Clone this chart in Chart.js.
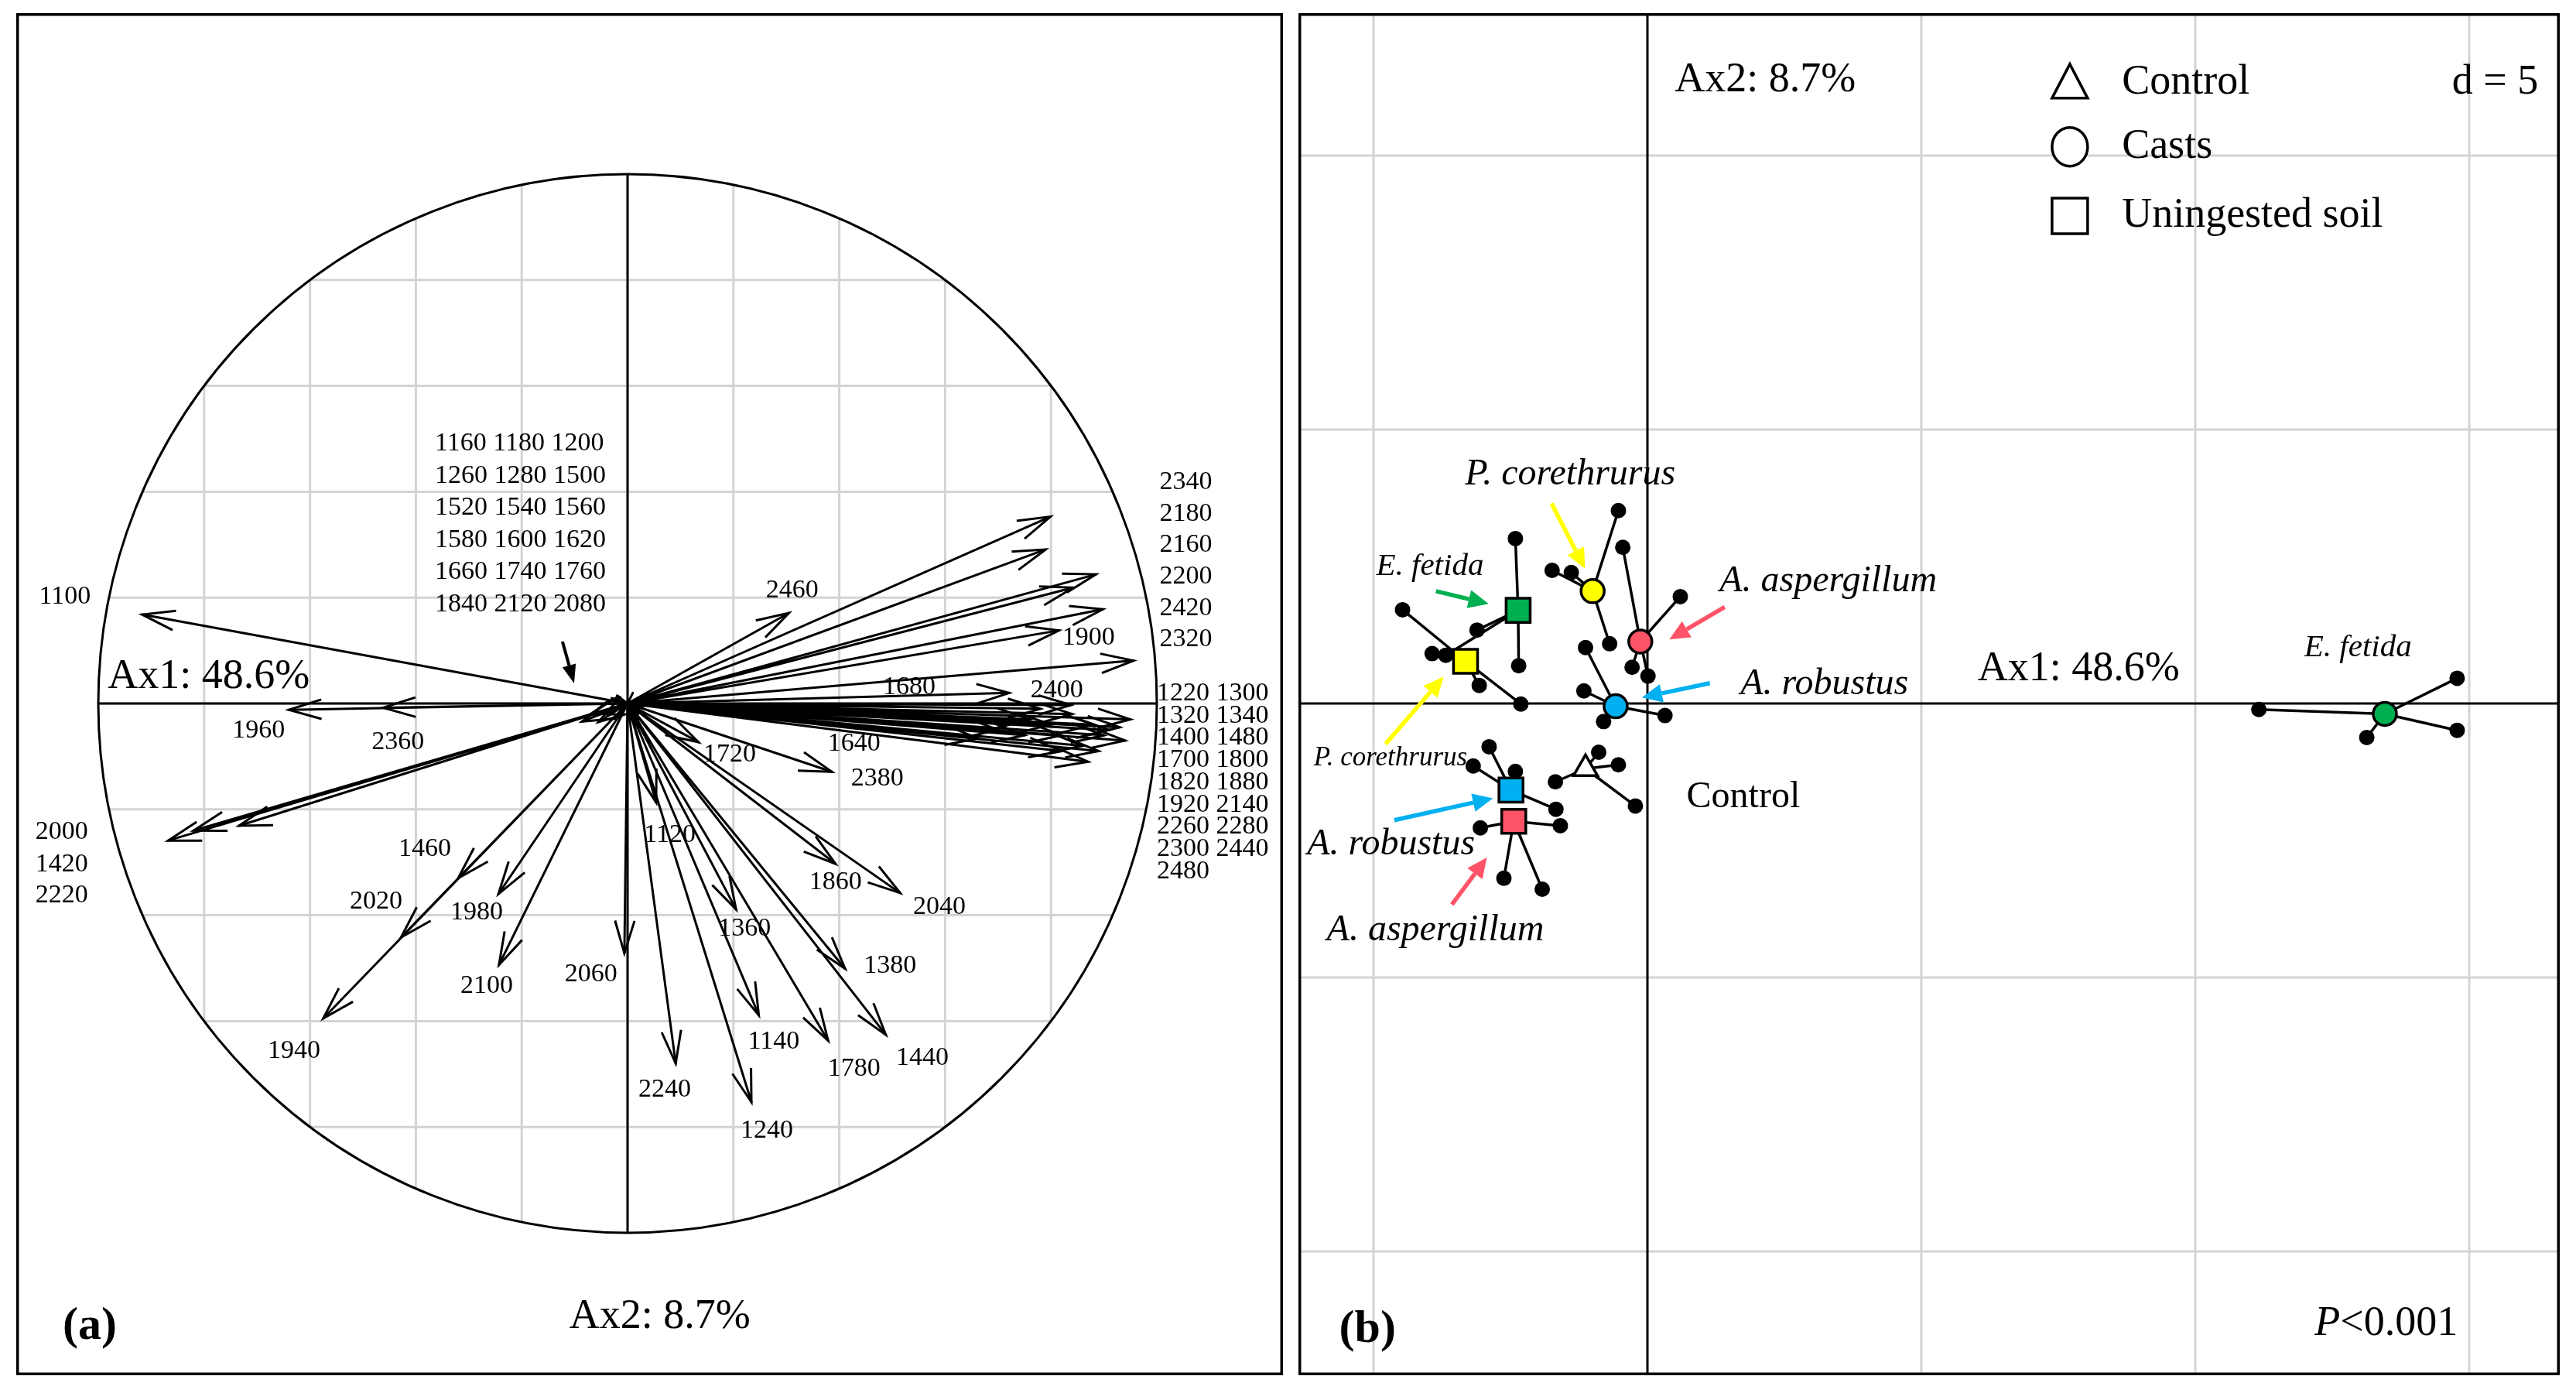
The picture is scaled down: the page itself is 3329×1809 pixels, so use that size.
<!DOCTYPE html>
<html>
<head>
<meta charset="utf-8">
<script src="https://cdn.jsdelivr.net/npm/chart.js@4.4.0/dist/chart.umd.min.js"></script>
<style>
  body { margin: 0; background: #fff; }
  #wrap { position: relative; width: 3329px; height: 1809px; background: #fff; }
  .panel { position: absolute; }
</style>
</head>
<body>
<div id="wrap">
  <div class="panel" style="left:21px;top:17px;width:1637px;height:1760px"><canvas id="chartA"></canvas></div>
  <div class="panel" style="left:1678px;top:17px;width:1630px;height:1760px"><canvas id="chartB"></canvas></div>
</div>
<script>
// ---------- panel (a): correlation circle, wavenumbers ----------
const varNames = [
  "1100", "1960", "2360", "2000", "1420", "2220", "1460", "2020", "1940", "1980",
  "2100", "2060", "2240", "1240", "1140", "1780", "1440", "1380", "1360", "1120",
  "1860", "2040", "1720", "2380", "1640", "1680", "2460", "2400",
  "2340", "2180", "2160", "2200", "2420", "1900", "2320",
  "1220", "1300", "1320", "1340", "1400", "1480", "1700", "1800", "1820",
  "1880", "1920", "2140", "2260", "2280", "2300", "2440", "2480",
  "1160", "1180", "1200", "1260", "1280", "1500", "1520", "1540", "1560",
  "1580", "1600", "1620", "1660", "1740", "1760", "1840", "2120", "2080"
];
const varAx1 = [
  -0.917, -0.640, -0.462, -0.868, -0.820, -0.734, -0.320, -0.428, -0.575, -0.244,
  -0.243, -0.006, 0.091, 0.234, 0.248, 0.379, 0.488, 0.411, 0.205, 0.054,
  0.393, 0.515, 0.134, 0.386, 0.662, 0.721, 0.305, 0.838,
  0.799, 0.790, 0.885, 0.842, 0.898, 0.815, 0.956,
  0.950, 0.940, 0.910, 0.880, 0.870, 0.900, 0.840, 0.820, 0.780,
  0.860, 0.800, 0.750, 0.930, 0.890, 0.820, 0.760, 0.700,
  -0.086, -0.070, -0.055, -0.030, 0.020, -0.020, 0.010, -0.015, 0.015,
  -0.010, 0.020, -0.025, 0.010, -0.040, 0.030, -0.020, 0.005, -0.035
];
const varAx2 = [
  0.168, -0.012, -0.008, -0.259, -0.240, -0.231, -0.330, -0.442, -0.595, -0.360,
  -0.494, -0.472, -0.680, -0.753, -0.589, -0.637, -0.626, -0.501, -0.389, -0.187,
  -0.303, -0.358, -0.073, -0.129, -0.066, 0.020, 0.171, -0.003,
  0.353, 0.291, 0.244, 0.219, 0.178, 0.138, 0.081,
  -0.030, -0.070, -0.050, -0.040, -0.110, -0.060, -0.020, -0.060, -0.010,
  -0.080, -0.040, -0.060, -0.045, -0.090, -0.090, -0.030, -0.050,
  -0.034, -0.020, -0.035, 0.010, -0.020, -0.010, 0.020, 0.005, -0.010,
  -0.020, 0.010, -0.015, -0.025, -0.020, -0.005, 0.015, -0.030, 0.000
];
const upperRightList = ["2340", "2180", "2160", "2200", "2420", "2320"];
const bundleRows = ["1220 1300", "1320 1340", "1400 1480", "1700 1800", "1820 1880",
                    "1920 2140", "2260 2280", "2300 2440", "2480"];
const originRows = ["1160 1180 1200", "1260 1280 1500", "1520 1540 1560",
                    "1580 1600 1620", "1660 1740 1760", "1840 2120 2080"];
const axis1Label = "Ax1: 48.6%";
const axis2Label = "Ax2: 8.7%";

// ---------- panel (b): sample scores, d = 5 ----------
const groupNames = [
  "Control",
  "P. corethrurus casts", "A. aspergillum casts", "A. robustus casts", "E. fetida casts",
  "E. fetida soil", "P. corethrurus soil", "A. robustus soil", "A. aspergillum soil"
];
const groupType = ["control", "casts", "casts", "casts", "casts", "soil", "soil", "soil", "soil"];
const groupSpecies = ["none", "pc", "aa", "ar", "ef", "ef", "pc", "ar", "aa"];
const centroidX = [-1.13, -1.00, -0.13, -0.58, 13.46, -2.36, -3.32, -2.49, -2.44];
const centroidY = [-1.19, 2.05, 1.13, -0.05, -0.19, 1.70, 0.77, -1.58, -2.15];
const sampleX = [
  [-0.89, -0.53, -1.68, -0.22],
  [-0.53, -1.74, -1.39, -0.69],
  [-0.45, 0.60, -0.28, 0.01],
  [-1.13, -1.16, -0.80, 0.32],
  [11.16, 14.78, 14.78, 13.13],
  [-2.41, -2.35, -3.11, -3.68],
  [-4.47, -3.93, -3.07, -2.31],
  [-2.89, -3.18, -2.41, -1.67],
  [-3.05, -1.59, -2.62, -1.92]
];
const sampleY = [
  [-0.89, -1.12, -1.43, -1.87],
  [3.52, 2.43, 2.39, 1.09],
  [2.85, 1.95, 0.66, 0.50],
  [1.02, 0.23, -0.33, -0.22],
  [-0.11, 0.46, -0.49, -0.62],
  [3.01, 0.69, 1.34, 0.88],
  [1.71, 0.91, 0.33, -0.01],
  [-0.79, -1.14, -1.24, -1.93],
  [-2.27, -2.23, -3.19, -3.39]
];
const legendNames = ["Control", "Casts", "Uningested soil"];

// ---------- styles & layout ----------
const serif = "'Liberation Serif', 'Times New Roman', serif";
const speciesColor = { none: "#ffffff", pc: "#ffff00", aa: "#ff5468", ar: "#00b0f0", ef: "#00b050" };
const typeStyle = { control: "triangle", casts: "circle", soil: "rect" };
const typeRadius = { control: 18, casts: 15, soil: 22 };

const A = { w: 1637, h: 1760, cx: 790, cy: 892, r: 684 };
const B = { w: 1630, h: 1760, cx: 451, cy: 892, u: 70.8 };

// label anchors in data units (panel a)
const labelSpotsA = [
  ["1100", -1.063, 0.202], ["1960", -0.697, -0.051], ["2360", -0.434, -0.073],
  ["2000", -1.069, -0.243], ["1420", -1.069, -0.304], ["2220", -1.069, -0.363],
  ["1460", -0.383, -0.275], ["2020", -0.475, -0.374], ["1980", -0.285, -0.395],
  ["2100", -0.266, -0.534], ["1940", -0.630, -0.656], ["2060", -0.069, -0.512],
  ["1120", 0.080, -0.249], ["1360", 0.221, -0.425], ["1860", 0.393, -0.338],
  ["2040", 0.589, -0.385], ["1380", 0.496, -0.496], ["1140", 0.276, -0.639],
  ["1780", 0.428, -0.690], ["1440", 0.557, -0.670], ["2240", 0.070, -0.730],
  ["1240", 0.263, -0.807], ["1720", 0.193, -0.096], ["2380", 0.472, -0.142],
  ["1640", 0.428, -0.076], ["1680", 0.532, 0.031], ["2400", 0.811, 0.025],
  ["2460", 0.311, 0.213], ["1900", 0.871, 0.124]
];

function line(ctx, x0, y0, x1, y1) {
  ctx.beginPath(); ctx.moveTo(x0, y0); ctx.lineTo(x1, y1); ctx.stroke();
}
function txt(ctx, s, x, y, font, align) {
  ctx.font = font;
  ctx.fillStyle = "#000";
  ctx.textAlign = align || "center";
  ctx.textBaseline = "middle";
  ctx.fillText(s, x, y);
}
function openHead(ctx, x0, y0, x1, y1, len, ang) {
  const a = Math.atan2(y1 - y0, x1 - x0);
  ctx.beginPath();
  ctx.moveTo(x1 - len * Math.cos(a - ang), y1 - len * Math.sin(a - ang));
  ctx.lineTo(x1, y1);
  ctx.lineTo(x1 - len * Math.cos(a + ang), y1 - len * Math.sin(a + ang));
  ctx.stroke();
}
function solidArrow(ctx, x0, y0, x1, y1, color, width, hl, hw) {
  const a = Math.atan2(y1 - y0, x1 - x0);
  const bx = x1 - hl * Math.cos(a), by = y1 - hl * Math.sin(a);
  ctx.strokeStyle = color; ctx.lineWidth = width; ctx.lineCap = "butt";
  line(ctx, x0, y0, bx, by);
  ctx.fillStyle = color;
  ctx.beginPath();
  ctx.moveTo(x1, y1);
  ctx.lineTo(bx + hw * Math.sin(a), by - hw * Math.cos(a));
  ctx.lineTo(bx - hw * Math.sin(a), by + hw * Math.cos(a));
  ctx.closePath(); ctx.fill();
}

// ---------- chart (a) ----------
const arrowPath = [{ x: 0, y: 0 }];
varAx1.forEach((x, i) => { arrowPath.push({ x: x, y: varAx2[i] }, { x: 0, y: 0 }); });

const circlePlugin = {
  id: "circlePlugin",
  beforeDatasetsDraw(chart) {
    const ctx = chart.ctx, sx = chart.scales.x, sy = chart.scales.y;
    const ox = sx.getPixelForValue(0), oy = sy.getPixelForValue(0);
    const r = sx.getPixelForValue(1) - ox;
    ctx.save();
    ctx.beginPath(); ctx.arc(ox, oy, r, 0, Math.PI * 2); ctx.clip();
    ctx.strokeStyle = "#d3d3d3"; ctx.lineWidth = 3;
    for (let k = -4; k <= 4; k++) {
      const v = k * 0.2;
      line(ctx, sx.getPixelForValue(v), oy - r, sx.getPixelForValue(v), oy + r);
      line(ctx, ox - r, sy.getPixelForValue(v), ox + r, sy.getPixelForValue(v));
    }
    ctx.restore();
    ctx.save();
    ctx.strokeStyle = "#000"; ctx.lineWidth = 3;
    line(ctx, ox - r, oy, ox + r, oy);
    line(ctx, ox, oy - r, ox, oy + r);
    ctx.beginPath(); ctx.arc(ox, oy, r, 0, Math.PI * 2); ctx.stroke();
    ctx.restore();
  },
  afterDatasetsDraw(chart) {
    const ctx = chart.ctx, sx = chart.scales.x, sy = chart.scales.y;
    const px = v => sx.getPixelForValue(v), py = v => sy.getPixelForValue(v);
    ctx.save();
    ctx.strokeStyle = "#000"; ctx.lineWidth = 3; ctx.lineJoin = "miter";
    varAx1.forEach((x, i) => {
      const y = varAx2[i];
      if (Math.hypot(x, y) < 0.05) return;
      openHead(ctx, px(0), py(0), px(x), py(y), 44, 0.29);
    });
    // pointer to the cluster at the origin
    solidArrow(ctx, px(-0.123), py(0.117), px(-0.101), py(0.038), "#000", 4, 24, 9);

    const small = "34px " + serif;
    labelSpotsA.forEach(l => txt(ctx, l[0], px(l[1]), py(l[2]), small));
    upperRightList.forEach((s, k) => txt(ctx, s, px(1.005), py(0.418 - 0.0594 * k), small, "left"));
    bundleRows.forEach((s, k) => txt(ctx, s, px(1.0), py(0.019 - 0.042 * k), small, "left"));
    originRows.forEach((s, k) => txt(ctx, s, px(-0.364), py(0.491 - 0.0608 * k), small, "left"));

    txt(ctx, axis1Label, px(-0.982), py(0.050), "54px " + serif, "left");
    txt(ctx, axis2Label, px(0.061), py(-1.159), "54px " + serif);
    txt(ctx, "(a)", px(-1.016), py(-1.178), "bold 60px " + serif);

    ctx.strokeStyle = "#000"; ctx.lineWidth = 3.5;
    ctx.strokeRect(1.75, 1.75, chart.width - 3.5, chart.height - 3.5);
    ctx.restore();
  }
};

new Chart(document.getElementById("chartA"), {
  type: "scatter",
  data: {
    datasets: [{
      data: arrowPath,
      showLine: true,
      borderColor: "#000",
      borderWidth: 3,
      borderJoinStyle: "round",
      pointRadius: 0,
      tension: 0
    }]
  },
  options: {
    responsive: true,
    maintainAspectRatio: false,
    devicePixelRatio: 1,
    animation: false,
    layout: { padding: 0, autoPadding: false },
    plugins: { legend: { display: false }, tooltip: { enabled: false } },
    scales: {
      x: { type: "linear", display: false, min: -A.cx / A.r, max: (A.w - A.cx) / A.r },
      y: { type: "linear", display: false, min: -(A.h - A.cy) / A.r, max: A.cy / A.r }
    }
  },
  plugins: [circlePlugin]
});

// ---------- chart (b) ----------
const datasetsB = [];
groupNames.forEach((name, g) => {
  const star = [];
  sampleX[g].forEach((x, i) => {
    star.push({ x: centroidX[g], y: centroidY[g] }, { x: x, y: sampleY[g][i] });
  });
  star.push({ x: centroidX[g], y: centroidY[g] });
  datasetsB.push({
    label: name + " links", data: star, showLine: true, order: 3,
    borderColor: "#000", borderWidth: 3.5, borderJoinStyle: "round", pointRadius: 0, tension: 0
  });
});
const allSamples = [];
groupNames.forEach((name, g) => {
  sampleX[g].forEach((x, i) => allSamples.push({ x: x, y: sampleY[g][i] }));
});
datasetsB.push({
  label: "samples", data: allSamples, order: 2,
  pointRadius: 10, pointBackgroundColor: "#000", pointBorderWidth: 0
});
groupNames.forEach((name, g) => {
  datasetsB.push({
    label: name, data: [{ x: centroidX[g], y: centroidY[g] }], order: 1,
    pointStyle: typeStyle[groupType[g]], pointRadius: typeRadius[groupType[g]],
    pointBackgroundColor: speciesColor[groupSpecies[g]],
    pointBorderColor: "#000", pointBorderWidth: 3.5
  });
});

// annotations for panel (b), in data units
const notesB = [
  { t: "P. corethrurus", x: -1.41, y: 4.18, size: 48, it: true },
  { t: "E. fetida", x: -3.97, y: 2.50, size: 41, it: true },
  { t: "A. aspergillum", x: 3.30, y: 2.22, size: 48, it: true },
  { t: "A. robustus", x: 3.23, y: 0.35, size: 48, it: true },
  { t: "P. corethrurus", x: -4.69, y: -1.00, size: 35, it: true },
  { t: "Control", x: 1.75, y: -1.72, size: 48, it: false },
  { t: "A. robustus", x: -4.68, y: -2.57, size: 48, it: true },
  { t: "A. aspergillum", x: -3.87, y: -4.15, size: 48, it: true },
  { t: "E. fetida", x: 12.97, y: 1.02, size: 41, it: true }
];
const pointersB = [
  { c: "pc", x0: -1.75, y0: 3.65, x1: -1.14, y1: 2.46 },
  { c: "ef", x0: -3.86, y0: 2.05, x1: -2.90, y1: 1.82 },
  { c: "aa", x0: 1.41, y0: 1.76, x1: 0.40, y1: 1.17 },
  { c: "ar", x0: 1.14, y0: 0.37, x1: -0.10, y1: 0.11 },
  { c: "pc", x0: -4.78, y0: -0.74, x1: -3.72, y1: 0.49 },
  { c: "ar", x0: -4.62, y0: -2.13, x1: -2.82, y1: -1.73 },
  { c: "aa", x0: -3.57, y0: -3.67, x1: -2.93, y1: -2.81 }
];

const scorePlugin = {
  id: "scorePlugin",
  beforeDatasetsDraw(chart) {
    const ctx = chart.ctx, sx = chart.scales.x, sy = chart.scales.y;
    const W = chart.width, H = chart.height;
    ctx.save();
    ctx.strokeStyle = "#d3d3d3"; ctx.lineWidth = 3;
    [-5, 5, 10, 15].forEach(v => line(ctx, sx.getPixelForValue(v), 0, sx.getPixelForValue(v), H));
    [-10, -5, 5, 10].forEach(v => line(ctx, 0, sy.getPixelForValue(v), W, sy.getPixelForValue(v)));
    ctx.strokeStyle = "#000"; ctx.lineWidth = 3;
    line(ctx, sx.getPixelForValue(0), 0, sx.getPixelForValue(0), H);
    line(ctx, 0, sy.getPixelForValue(0), W, sy.getPixelForValue(0));
    ctx.restore();
  },
  afterDatasetsDraw(chart) {
    const ctx = chart.ctx, sx = chart.scales.x, sy = chart.scales.y;
    const px = v => sx.getPixelForValue(v), py = v => sy.getPixelForValue(v);
    ctx.save();
    pointersB.forEach(p => solidArrow(ctx, px(p.x0), py(p.y0), px(p.x1), py(p.y1), speciesColor[p.c], 5.5, 26, 12));
    notesB.forEach(n => txt(ctx, n.t, px(n.x), py(n.y), (n.it ? "italic " : "") + n.size + "px " + serif));

    txt(ctx, axis2Label, px(2.15), py(11.37), "54px " + serif);
    txt(ctx, axis1Label, px(7.87), py(0.62), "54px " + serif);
    txt(ctx, "d = 5", px(16.26), py(11.33), "54px " + serif, "right");
    txt(ctx, "(b)", px(-5.11), py(-11.44), "bold 60px " + serif);

    // P<0.001 with italic P
    ctx.font = "54px " + serif;
    const restW = ctx.measureText("<0.001").width;
    txt(ctx, "<0.001", px(14.79), py(-11.33), "54px " + serif, "right");
    txt(ctx, "P", px(14.79) - restW, py(-11.33), "italic 54px " + serif, "right");

    // legend
    const lx = px(7.71), tx = px(8.66);
    const ly = [py(11.33), py(10.16), py(8.90)];
    ctx.strokeStyle = "#000"; ctx.lineWidth = 3.5; ctx.fillStyle = "#fff";
    ctx.beginPath();
    ctx.moveTo(lx, ly[0] - 24); ctx.lineTo(lx + 23, ly[0] + 20); ctx.lineTo(lx - 23, ly[0] + 20);
    ctx.closePath(); ctx.fill(); ctx.stroke();
    ctx.beginPath(); ctx.ellipse(lx, ly[1], 23, 25, 0, 0, Math.PI * 2); ctx.fill(); ctx.stroke();
    ctx.beginPath(); ctx.rect(lx - 23, ly[2] - 23, 46, 46); ctx.fill(); ctx.stroke();
    legendNames.forEach((s, k) => txt(ctx, s, tx, ly[k], "54px " + serif, "left"));

    ctx.strokeStyle = "#000"; ctx.lineWidth = 3.5;
    ctx.strokeRect(1.75, 1.75, chart.width - 3.5, chart.height - 3.5);
    ctx.restore();
  }
};

new Chart(document.getElementById("chartB"), {
  type: "scatter",
  data: { datasets: datasetsB },
  options: {
    responsive: true,
    maintainAspectRatio: false,
    devicePixelRatio: 1,
    animation: false,
    layout: { padding: 0, autoPadding: false },
    plugins: { legend: { display: false }, tooltip: { enabled: false } },
    scales: {
      x: { type: "linear", display: false, min: -B.cx / B.u, max: (B.w - B.cx) / B.u },
      y: { type: "linear", display: false, min: -(B.h - B.cy) / B.u, max: B.cy / B.u }
    }
  },
  plugins: [scorePlugin]
});
</script>
</body>
</html>
